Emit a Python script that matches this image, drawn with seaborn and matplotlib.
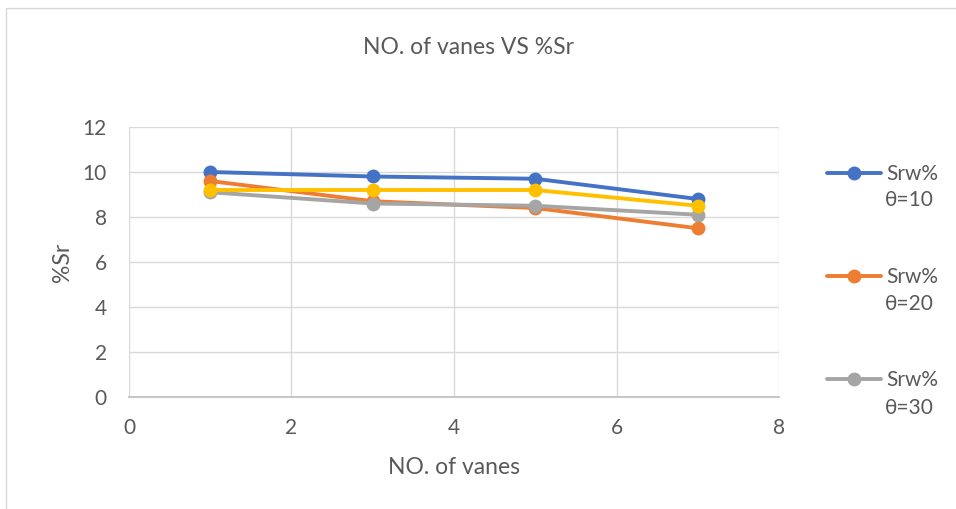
import matplotlib
matplotlib.use("Agg")
import matplotlib.pyplot as plt
import seaborn as sns
import pandas as pd

vanes = [1, 3, 5, 7]
srw_10 = [10.0, 9.8, 9.7, 8.8]
srw_20 = [9.6, 8.7, 8.4, 7.5]
srw_30 = [9.1, 8.6, 8.5, 8.1]
srw_4 = [9.2, 9.2, 9.2, 8.5]
series_first = ["Srw%", "Srw%", "Srw%", "Srw%"]
series_second = ["θ=10", "θ=20", "θ=30", "θ=40"]
series_names = [a + " " + b for a, b in zip(series_first, series_second)]
colors = ["#4472C4", "#ED7D31", "#A5A5A5", "#FFC000"]

rows = []
for name, vals in zip(series_names, [srw_10, srw_20, srw_30, srw_4]):
    for x, v in zip(vanes, vals):
        rows.append({"vanes": x, "sr": v, "series": name})
df = pd.DataFrame(rows)

sns.set_theme(style="white")
plt.rcParams["font.family"] = ["Lato", "DejaVu Sans"]
txt = "#595959"

fig = plt.figure(figsize=(9.56, 5.09), dpi=100)
fig.patches.append(plt.Rectangle((0.006, -0.01), 1.1, 0.995, transform=fig.transFigure,
                                 fill=False, edgecolor="#d9d9d9", linewidth=1.0))
ax = fig.add_axes([0.1349, 0.22, 0.68, 0.5305])

sns.lineplot(data=df, x="vanes", y="sr", hue="series", palette=colors,
             marker="o", markersize=10, markeredgewidth=0, linewidth=2.8,
             ax=ax, legend=False, sort=False)

ax.set_xlim(0, 8)
ax.set_ylim(0, 12)
ax.set_xticks([0, 2, 4, 6, 8])
ax.set_yticks([0, 2, 4, 6, 8, 10, 12])
ax.grid(True, color="#d9d9d9", linewidth=1.0)
ax.set_axisbelow(True)
for s in ["top", "right", "left"]:
    ax.spines[s].set_visible(False)
ax.spines["bottom"].set_color("#bfbfbf")
ax.tick_params(axis="y", length=0, labelsize=15, colors=txt, pad=16)
ax.tick_params(axis="x", length=0, labelsize=15, colors=txt, pad=15)

ax.set_xlabel("NO. of vanes", fontsize=16.5, color=txt, labelpad=14)
ax.set_ylabel("%Sr", fontsize=16.5, color=txt, labelpad=7)
fig.text(0.49, 0.906, "NO. of vanes VS %Sr", ha="center", va="center",
         fontsize=16.5, color=txt)

handles = ax.get_lines()[:3]
leg = fig.legend(handles, series_first[:3], loc="upper left",
                 bbox_to_anchor=(0.8456, 0.715), frameon=False, fontsize=15,
                 labelspacing=4.0, handlelength=2.6, handletextpad=0.25,
                 borderpad=0.4, labelcolor=txt)
for yc, label in zip([200, 304, 408], series_second[:3]):
    fig.text(885 / 956, 1 - yc / 509, label, ha="left", va="center",
             fontsize=15, color=txt)

fig.savefig("out.png", dpi=100)
